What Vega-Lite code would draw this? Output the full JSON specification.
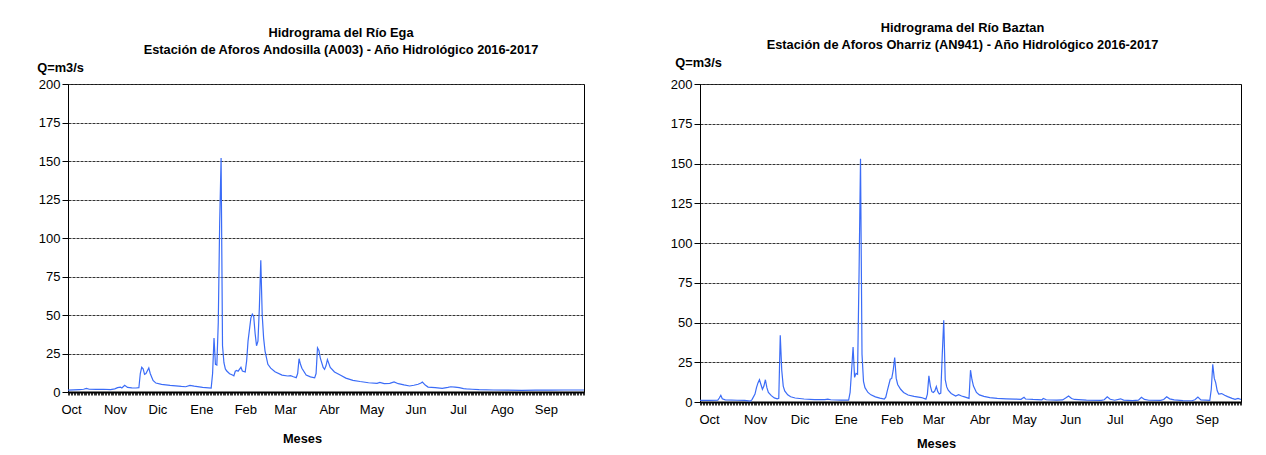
{
  "$schema": "https://vega.github.io/schema/vega-lite/v6.json",
  "padding": {"left": 36, "top": 21, "right": 10, "bottom": 5},
  "background": "white",
  "spacing": 116,
  "bounds": "flush",
  "config": {
    "font": "Liberation Sans",
    "view": {"stroke": "black", "strokeWidth": 1},
    "axis": {
      "labelFont": "Liberation Sans", "labelFontSize": 13, "labelColor": "black",
      "titleFont": "Liberation Sans", "titleFontSize": 12.8, "titleFontWeight": "bold", "titleColor": "black",
      "domainColor": "black", "tickColor": "black"
    },
    "title": {"font": "Liberation Sans", "fontSize": 12.8, "fontWeight": "bold", "color": "black", "lineHeight": 17, "anchor": "middle", "offset": 4}
  },
  "datasets": {
    "ega": [
      {"fecha": "2016-10-01", "q": 1.2}, {"fecha": "2016-10-05", "q": 1.4}, {"fecha": "2016-10-09", "q": 1.6},
      {"fecha": "2016-10-12", "q": 1.8}, {"fecha": "2016-10-14", "q": 2.3}, {"fecha": "2016-10-16", "q": 1.8},
      {"fecha": "2016-10-21", "q": 1.7}, {"fecha": "2016-10-26", "q": 1.8}, {"fecha": "2016-10-31", "q": 1.6},
      {"fecha": "2016-11-03", "q": 2.0}, {"fecha": "2016-11-05", "q": 2.8}, {"fecha": "2016-11-07", "q": 3.2},
      {"fecha": "2016-11-08", "q": 2.6}, {"fecha": "2016-11-10", "q": 4.3}, {"fecha": "2016-11-12", "q": 3.0},
      {"fecha": "2016-11-15", "q": 2.7}, {"fecha": "2016-11-18", "q": 2.6}, {"fecha": "2016-11-20", "q": 2.8},
      {"fecha": "2016-11-21", "q": 12}, {"fecha": "2016-11-22", "q": 16}, {"fecha": "2016-11-23", "q": 15},
      {"fecha": "2016-11-24", "q": 11.5}, {"fecha": "2016-11-25", "q": 12}, {"fecha": "2016-11-27", "q": 15.6},
      {"fecha": "2016-11-28", "q": 12}, {"fecha": "2016-11-30", "q": 7.5}, {"fecha": "2016-12-02", "q": 5.8},
      {"fecha": "2016-12-06", "q": 5.0}, {"fecha": "2016-12-12", "q": 4.3}, {"fecha": "2016-12-20", "q": 3.6},
      {"fecha": "2016-12-23", "q": 3.4}, {"fecha": "2016-12-26", "q": 4.3}, {"fecha": "2016-12-29", "q": 3.8},
      {"fecha": "2017-01-04", "q": 3.0}, {"fecha": "2017-01-10", "q": 2.5}, {"fecha": "2017-01-11", "q": 12},
      {"fecha": "2017-01-12", "q": 35}, {"fecha": "2017-01-13", "q": 18}, {"fecha": "2017-01-14", "q": 17.5},
      {"fecha": "2017-01-15", "q": 45}, {"fecha": "2017-01-16", "q": 110}, {"fecha": "2017-01-17", "q": 152},
      {"fecha": "2017-01-18", "q": 30}, {"fecha": "2017-01-19", "q": 19}, {"fecha": "2017-01-20", "q": 15},
      {"fecha": "2017-01-21", "q": 13.6}, {"fecha": "2017-01-23", "q": 11.9}, {"fecha": "2017-01-25", "q": 11},
      {"fecha": "2017-01-26", "q": 10.5}, {"fecha": "2017-01-27", "q": 13.5}, {"fecha": "2017-01-28", "q": 14},
      {"fecha": "2017-01-29", "q": 13.5}, {"fecha": "2017-01-31", "q": 16}, {"fecha": "2017-02-01", "q": 13.6},
      {"fecha": "2017-02-03", "q": 13}, {"fecha": "2017-02-04", "q": 20}, {"fecha": "2017-02-05", "q": 33},
      {"fecha": "2017-02-07", "q": 48}, {"fecha": "2017-02-08", "q": 50.6}, {"fecha": "2017-02-09", "q": 49},
      {"fecha": "2017-02-10", "q": 38}, {"fecha": "2017-02-11", "q": 30}, {"fecha": "2017-02-12", "q": 33},
      {"fecha": "2017-02-13", "q": 55}, {"fecha": "2017-02-14", "q": 85.6}, {"fecha": "2017-02-15", "q": 50},
      {"fecha": "2017-02-16", "q": 35}, {"fecha": "2017-02-17", "q": 26.6}, {"fecha": "2017-02-19", "q": 18},
      {"fecha": "2017-02-21", "q": 15.5}, {"fecha": "2017-02-24", "q": 13.2}, {"fecha": "2017-03-01", "q": 11},
      {"fecha": "2017-03-05", "q": 10.4}, {"fecha": "2017-03-07", "q": 10.6}, {"fecha": "2017-03-09", "q": 9.9},
      {"fecha": "2017-03-11", "q": 9.3}, {"fecha": "2017-03-12", "q": 12}, {"fecha": "2017-03-13", "q": 21.6},
      {"fecha": "2017-03-14", "q": 18}, {"fecha": "2017-03-15", "q": 15.4}, {"fecha": "2017-03-18", "q": 11},
      {"fecha": "2017-03-21", "q": 9.8}, {"fecha": "2017-03-24", "q": 9.2}, {"fecha": "2017-03-25", "q": 12},
      {"fecha": "2017-03-26", "q": 28.7}, {"fecha": "2017-03-27", "q": 27}, {"fecha": "2017-03-28", "q": 22},
      {"fecha": "2017-03-30", "q": 16}, {"fecha": "2017-03-31", "q": 14.7}, {"fecha": "2017-04-01", "q": 17},
      {"fecha": "2017-04-02", "q": 21}, {"fecha": "2017-04-04", "q": 16}, {"fecha": "2017-04-07", "q": 13},
      {"fecha": "2017-04-11", "q": 11}, {"fecha": "2017-04-15", "q": 9}, {"fecha": "2017-04-20", "q": 7.6},
      {"fecha": "2017-04-25", "q": 6.8}, {"fecha": "2017-05-01", "q": 6}, {"fecha": "2017-05-07", "q": 5.6},
      {"fecha": "2017-05-09", "q": 6.2}, {"fecha": "2017-05-12", "q": 5.4}, {"fecha": "2017-05-16", "q": 5.6},
      {"fecha": "2017-05-19", "q": 6.5}, {"fecha": "2017-05-22", "q": 5.4}, {"fecha": "2017-05-26", "q": 4.6},
      {"fecha": "2017-05-30", "q": 3.9}, {"fecha": "2017-06-02", "q": 4.4}, {"fecha": "2017-06-05", "q": 5.0},
      {"fecha": "2017-06-07", "q": 5.8}, {"fecha": "2017-06-08", "q": 6.5}, {"fecha": "2017-06-10", "q": 4.5},
      {"fecha": "2017-06-12", "q": 3.2}, {"fecha": "2017-06-17", "q": 2.8}, {"fecha": "2017-06-22", "q": 2.4},
      {"fecha": "2017-06-26", "q": 3.0}, {"fecha": "2017-06-28", "q": 3.4}, {"fecha": "2017-07-01", "q": 3.2},
      {"fecha": "2017-07-04", "q": 2.8}, {"fecha": "2017-07-07", "q": 2.2}, {"fecha": "2017-07-09", "q": 2.0},
      {"fecha": "2017-07-13", "q": 1.8}, {"fecha": "2017-07-18", "q": 1.5}, {"fecha": "2017-07-28", "q": 1.3},
      {"fecha": "2017-08-07", "q": 1.2}, {"fecha": "2017-08-17", "q": 1.1}, {"fecha": "2017-08-27", "q": 1.2},
      {"fecha": "2017-09-06", "q": 1.2}, {"fecha": "2017-09-16", "q": 1.3}, {"fecha": "2017-09-30", "q": 1.3}
    ],
    "baztan": [
      {"fecha": "2016-10-01", "q": 1.0}, {"fecha": "2016-10-07", "q": 1.0}, {"fecha": "2016-10-13", "q": 1.2},
      {"fecha": "2016-10-14", "q": 2.5}, {"fecha": "2016-10-15", "q": 4.2}, {"fecha": "2016-10-16", "q": 2.0},
      {"fecha": "2016-10-18", "q": 1.3}, {"fecha": "2016-10-26", "q": 1.1}, {"fecha": "2016-10-31", "q": 1.0},
      {"fecha": "2016-11-04", "q": 0.6}, {"fecha": "2016-11-05", "q": 1.5}, {"fecha": "2016-11-07", "q": 5},
      {"fecha": "2016-11-08", "q": 9}, {"fecha": "2016-11-09", "q": 12}, {"fecha": "2016-11-10", "q": 14},
      {"fecha": "2016-11-11", "q": 11}, {"fecha": "2016-11-12", "q": 8}, {"fecha": "2016-11-13", "q": 10},
      {"fecha": "2016-11-14", "q": 14}, {"fecha": "2016-11-15", "q": 9}, {"fecha": "2016-11-16", "q": 6},
      {"fecha": "2016-11-18", "q": 4}, {"fecha": "2016-11-20", "q": 2.6}, {"fecha": "2016-11-22", "q": 2.0},
      {"fecha": "2016-11-23", "q": 2.3}, {"fecha": "2016-11-24", "q": 42}, {"fecha": "2016-11-25", "q": 20},
      {"fecha": "2016-11-26", "q": 10}, {"fecha": "2016-11-27", "q": 7}, {"fecha": "2016-11-29", "q": 4.5},
      {"fecha": "2016-12-01", "q": 3.3}, {"fecha": "2016-12-04", "q": 2.5}, {"fecha": "2016-12-10", "q": 1.9},
      {"fecha": "2016-12-17", "q": 1.5}, {"fecha": "2016-12-24", "q": 1.5}, {"fecha": "2016-12-26", "q": 1.8},
      {"fecha": "2016-12-28", "q": 1.4}, {"fecha": "2017-01-04", "q": 1.2}, {"fecha": "2017-01-09", "q": 1.2},
      {"fecha": "2017-01-10", "q": 6}, {"fecha": "2017-01-11", "q": 20}, {"fecha": "2017-01-12", "q": 34.5},
      {"fecha": "2017-01-13", "q": 15.5}, {"fecha": "2017-01-14", "q": 18}, {"fecha": "2017-01-15", "q": 17.5},
      {"fecha": "2017-01-16", "q": 80}, {"fecha": "2017-01-17", "q": 153}, {"fecha": "2017-01-18", "q": 30},
      {"fecha": "2017-01-19", "q": 13}, {"fecha": "2017-01-20", "q": 9}, {"fecha": "2017-01-22", "q": 6},
      {"fecha": "2017-01-24", "q": 4.5}, {"fecha": "2017-01-27", "q": 3.2}, {"fecha": "2017-01-30", "q": 2.4},
      {"fecha": "2017-02-02", "q": 1.8}, {"fecha": "2017-02-03", "q": 3}, {"fecha": "2017-02-04", "q": 7},
      {"fecha": "2017-02-06", "q": 14.3}, {"fecha": "2017-02-07", "q": 14.8}, {"fecha": "2017-02-08", "q": 20},
      {"fecha": "2017-02-09", "q": 28}, {"fecha": "2017-02-10", "q": 15}, {"fecha": "2017-02-11", "q": 11},
      {"fecha": "2017-02-13", "q": 8}, {"fecha": "2017-02-15", "q": 6}, {"fecha": "2017-02-18", "q": 4.4},
      {"fecha": "2017-02-22", "q": 3.5}, {"fecha": "2017-02-27", "q": 2.8}, {"fecha": "2017-03-02", "q": 1.8},
      {"fecha": "2017-03-03", "q": 5}, {"fecha": "2017-03-04", "q": 16.4}, {"fecha": "2017-03-05", "q": 10},
      {"fecha": "2017-03-06", "q": 6.5}, {"fecha": "2017-03-07", "q": 6}, {"fecha": "2017-03-08", "q": 7},
      {"fecha": "2017-03-09", "q": 9.7}, {"fecha": "2017-03-10", "q": 6.5}, {"fecha": "2017-03-11", "q": 5},
      {"fecha": "2017-03-12", "q": 5.5}, {"fecha": "2017-03-13", "q": 30}, {"fecha": "2017-03-14", "q": 51.4},
      {"fecha": "2017-03-15", "q": 14}, {"fecha": "2017-03-16", "q": 9.5}, {"fecha": "2017-03-17", "q": 7.4},
      {"fecha": "2017-03-19", "q": 5.4}, {"fecha": "2017-03-22", "q": 3.8}, {"fecha": "2017-03-24", "q": 4.6},
      {"fecha": "2017-03-26", "q": 3.8}, {"fecha": "2017-03-28", "q": 3.2}, {"fecha": "2017-03-31", "q": 2.3},
      {"fecha": "2017-04-01", "q": 20}, {"fecha": "2017-04-02", "q": 14}, {"fecha": "2017-04-03", "q": 10},
      {"fecha": "2017-04-05", "q": 6}, {"fecha": "2017-04-07", "q": 4.5}, {"fecha": "2017-04-10", "q": 3.5},
      {"fecha": "2017-04-14", "q": 2.8}, {"fecha": "2017-04-19", "q": 2.3}, {"fecha": "2017-04-25", "q": 2.0},
      {"fecha": "2017-05-01", "q": 1.8}, {"fecha": "2017-05-05", "q": 1.7}, {"fecha": "2017-05-07", "q": 3.0},
      {"fecha": "2017-05-08", "q": 1.9}, {"fecha": "2017-05-13", "q": 1.6}, {"fecha": "2017-05-19", "q": 1.4},
      {"fecha": "2017-05-20", "q": 2.2}, {"fecha": "2017-05-22", "q": 1.4}, {"fecha": "2017-05-29", "q": 1.2},
      {"fecha": "2017-06-02", "q": 1.3}, {"fecha": "2017-06-04", "q": 2.5}, {"fecha": "2017-06-06", "q": 3.8},
      {"fecha": "2017-06-08", "q": 2.2}, {"fecha": "2017-06-10", "q": 1.6}, {"fecha": "2017-06-18", "q": 1.2},
      {"fecha": "2017-06-28", "q": 1.0}, {"fecha": "2017-06-30", "q": 1.4}, {"fecha": "2017-07-02", "q": 3.3},
      {"fecha": "2017-07-04", "q": 1.7}, {"fecha": "2017-07-07", "q": 1.1}, {"fecha": "2017-07-11", "q": 2.0},
      {"fecha": "2017-07-13", "q": 1.2}, {"fecha": "2017-07-19", "q": 0.9}, {"fecha": "2017-07-23", "q": 1.2},
      {"fecha": "2017-07-25", "q": 3.0}, {"fecha": "2017-07-27", "q": 1.6}, {"fecha": "2017-07-30", "q": 1.1},
      {"fecha": "2017-08-07", "q": 1.0}, {"fecha": "2017-08-09", "q": 1.6}, {"fecha": "2017-08-11", "q": 3.3},
      {"fecha": "2017-08-13", "q": 2.0}, {"fecha": "2017-08-16", "q": 1.3}, {"fecha": "2017-08-22", "q": 0.9},
      {"fecha": "2017-08-28", "q": 0.8}, {"fecha": "2017-08-30", "q": 1.4}, {"fecha": "2017-09-01", "q": 3.1},
      {"fecha": "2017-09-03", "q": 1.3}, {"fecha": "2017-09-09", "q": 1.0}, {"fecha": "2017-09-10", "q": 8},
      {"fecha": "2017-09-11", "q": 23.7}, {"fecha": "2017-09-12", "q": 15}, {"fecha": "2017-09-13", "q": 12},
      {"fecha": "2017-09-14", "q": 7}, {"fecha": "2017-09-15", "q": 5}, {"fecha": "2017-09-17", "q": 5.3},
      {"fecha": "2017-09-19", "q": 4.2}, {"fecha": "2017-09-21", "q": 3.4}, {"fecha": "2017-09-24", "q": 2.3},
      {"fecha": "2017-09-26", "q": 1.7}, {"fecha": "2017-09-28", "q": 2.3}, {"fecha": "2017-09-30", "q": 1.6}
    ]
  },
  "hconcat": [
    {
      "data": {"name": "ega"},
      "width": 516,
      "height": 308,
      "title": {"text": ["Hidrograma del Río Ega", "Estación de Aforos Andosilla (A003) - Año Hidrológico 2016-2017"], "dx": 15},
      "mark": {"type": "line", "color": "#3b6cf7", "strokeWidth": 1.2},
      "encoding": {
        "x": {
          "field": "fecha", "type": "temporal",
          "scale": {"type": "utc", "domain": [{"year": 2016, "month": 10, "date": 1, "utc": true}, {"year": 2017, "month": 9, "date": 30, "utc": true}]},
          "axis": {
            "title": "Meses", "titleX": 234, "titleY": 46, "titleBaseline": "middle", "titleAlign": "center",
            "grid": false, "domainWidth": 2, "tickCount": {"interval": "day", "step": 1}, "tickSize": 3, "tickWidth": 0.8,
            "labelExpr": "utcdate(datum.value) == 1 ? ['Ene','Feb','Mar','Abr','May','Jun','Jul','Ago','Sep','Oct','Nov','Dic'][utcmonth(datum.value)] : ''",
            "labelOverlap": false, "labelFlush": false, "labelBound": false, "labelPadding": 8, "labelOffset": 3, "labelAlign": "center"
          }
        },
        "y": {
          "field": "q", "type": "quantitative",
          "scale": {"domain": [0, 200], "nice": false},
          "axis": {
            "title": "Q=m3/s", "titleAngle": 0, "titleX": -8, "titleY": -17, "titleAlign": "center", "titleBaseline": "middle",
            "values": [0, 25, 50, 75, 100, 125, 150, 175, 200], "grid": true, "gridColor": "#333", "gridDash": [3, 1],
            "tickSize": 6, "labelPadding": 2
          }
        }
      }
    },
    {
      "data": {"name": "baztan"},
      "width": 541,
      "height": 318,
      "title": {"text": ["Hidrograma del Río Baztan", "Estación de Aforos Oharriz (AN941) - Año Hidrológico 2016-2017"], "dx": -8},
      "mark": {"type": "line", "color": "#3b6cf7", "strokeWidth": 1.2},
      "encoding": {
        "x": {
          "field": "fecha", "type": "temporal",
          "scale": {"type": "utc", "domain": [{"year": 2016, "month": 10, "date": 1, "utc": true}, {"year": 2017, "month": 9, "date": 30, "utc": true}]},
          "axis": {
            "title": "Meses", "titleX": 236, "titleY": 41, "titleBaseline": "middle", "titleAlign": "center",
            "grid": false, "domainWidth": 2, "tickCount": {"interval": "day", "step": 1}, "tickSize": 3, "tickWidth": 0.8,
            "labelExpr": "utcdate(datum.value) == 1 ? ['Ene','Feb','Mar','Abr','May','Jun','Jul','Ago','Sep','Oct','Nov','Dic'][utcmonth(datum.value)] : ''",
            "labelOverlap": false, "labelFlush": false, "labelBound": false, "labelPadding": 8, "labelOffset": 9, "labelAlign": "center"
          }
        },
        "y": {
          "field": "q", "type": "quantitative",
          "scale": {"domain": [0, 200], "nice": false},
          "axis": {
            "title": "Q=m3/s", "titleAngle": 0, "titleX": -2, "titleY": -22, "titleAlign": "center", "titleBaseline": "middle",
            "values": [0, 25, 50, 75, 100, 125, 150, 175, 200], "grid": true, "gridColor": "#333", "gridDash": [3, 1],
            "tickSize": 6, "labelPadding": 2
          }
        }
      }
    }
  ]
}
